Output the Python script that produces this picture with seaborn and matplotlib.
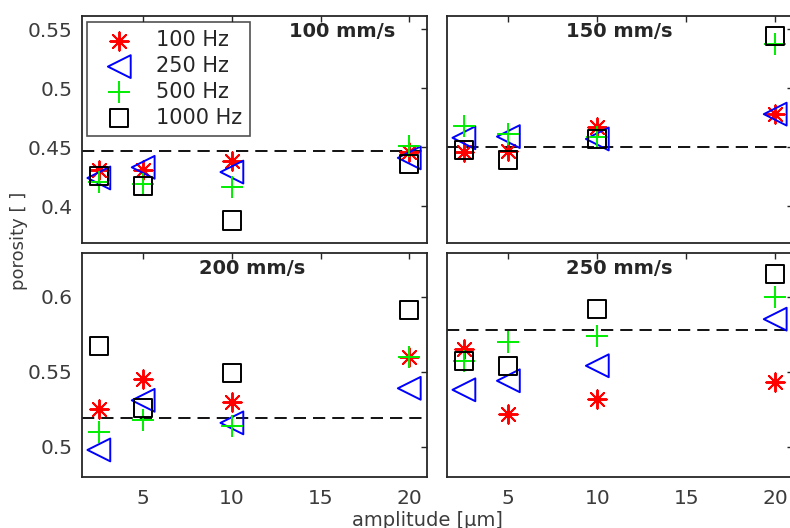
import numpy as np
import pandas as pd
import seaborn as sns
import matplotlib.pyplot as plt

amplitude = [2.5, 5, 10, 20]
speeds = [100, 150, 200, 250]
freqs = [100, 250, 500, 1000]

# porosity per scan speed, one list per frequency (100, 250, 500, 1000 Hz)
por_100 = [[0.431, 0.431, 0.438, 0.446],
           [0.424, 0.433, 0.429, 0.441],
           [0.421, 0.419, 0.416, 0.451],
           [0.426, 0.417, 0.388, 0.436]]
por_150 = [[0.446, 0.447, 0.467, 0.478],
           [0.458, 0.459, 0.457, 0.478],
           [0.468, 0.461, 0.459, 0.537],
           [0.448, 0.439, 0.457, 0.544]]
por_200 = [[0.525, 0.545, 0.530, 0.560],
           [0.498, 0.531, 0.516, 0.539],
           [0.510, 0.518, 0.514, 0.560],
           [0.567, 0.526, 0.549, 0.591]]
por_250 = [[0.565, 0.522, 0.532, 0.543],
           [0.538, 0.544, 0.554, 0.585],
           [0.557, 0.570, 0.574, 0.600],
           [0.557, 0.554, 0.592, 0.615]]
# reference porosity (dashed line) per speed
ref_por = [0.447, 0.450, 0.519, 0.578]

rows = []
for sp, block in zip(speeds, [por_100, por_150, por_200, por_250]):
    for fq, vals in zip(freqs, block):
        for a, v in zip(amplitude, vals):
            rows.append({"speed": sp, "freq": fq, "amplitude": a, "porosity": v})
df = pd.DataFrame(rows)

sns.set_style("white")
plt.rcParams["font.family"] = ["DejaVu Sans"]

markers = {100: (8, 2, 0), 250: "<", 500: "+", 1000: "s"}
colors = {100: "#ff0000", 250: "#0000ff", 500: "#00ee00", 1000: "#000000"}
sizes = {100: 175, 250: 270, 500: 230, 1000: 170}

txt_col = "#3c3c3c"
fig = plt.figure(figsize=(7.9, 5.28), dpi=100)
W, H = 790, 528
boxes = [(82, 16, 427, 243), (447, 16, 793, 243),
         (82, 253, 427, 477), (447, 253, 793, 477)]
ylims = [(0.369, 0.561), (0.369, 0.561), (0.48, 0.629), (0.48, 0.629)]
yticks = [[0.4, 0.45, 0.5, 0.55], [0.4, 0.45, 0.5, 0.55],
          [0.5, 0.55, 0.6], [0.5, 0.55, 0.6]]
title_x = [0.754, 0.497, 0.493, 0.497]

for i, sp in enumerate(speeds):
    l, t, r, b = boxes[i]
    ax = fig.add_axes([l / W, 1 - b / H, (r - l) / W, (b - t) / H])
    sub = df[df["speed"] == sp]
    ax.axhline(ref_por[i], color="#111111", lw=1.4, ls=(0, (6.3, 3.6)), zorder=1)
    for fq in freqs:
        d = sub[sub["freq"] == fq]
        m = markers[fq]
        kw = dict(facecolor="none", edgecolor=colors[fq]) if m in ("<", "s") else {}
        sns.scatterplot(data=d, x="amplitude", y="porosity", ax=ax,
                        marker=m, color=colors[fq], s=sizes[fq],
                        linewidth=1.4, label=f"{fq} Hz", legend=False,
                        zorder=3, **kw)
    ax.set_xlim(1.55, 21.0)
    ax.set_ylim(*ylims[i])
    ax.set_xticks([5, 10, 15, 20])
    ax.set_yticks(yticks[i])
    ax.set_yticklabels([f"{v:g}" for v in yticks[i]])
    ax.set_xlabel("")
    ax.set_ylabel("")
    ax.tick_params(direction="in", top=True, right=True, length=4, width=1,
                   labelsize=14.5, colors="#262626", labelcolor=txt_col, pad=7)
    ax.tick_params(axis="x", pad=9)
    if i < 2:
        ax.tick_params(labelbottom=False)
    if i % 2 == 1:
        ax.tick_params(labelleft=False)
    for s in ax.spines.values():
        s.set_color("#262626")
        s.set_linewidth(1.3)
    ax.text(title_x[i], 0.93, f"{sp} mm/s", transform=ax.transAxes,
            ha="center", va="center", fontsize=14, fontweight="bold",
            color="#262626")
    if i == 0:
        leg = ax.legend(loc="upper left", bbox_to_anchor=(0.0145, 0.974),
                        fontsize=15, frameon=True, fancybox=False,
                        labelspacing=0.28, handletextpad=0.6,
                        borderpad=0.4, handlelength=2.3, borderaxespad=0.0)
        leg.get_frame().set_edgecolor("#262626")
        leg.get_frame().set_linewidth(1.2)
        for tx in leg.get_texts():
            tx.set_color("#262626")

fig.text(19 / W, 1 - 241 / H, "porosity [ ]", rotation=90, ha="center",
         va="center", fontsize=13, color=txt_col)
fig.text(427 / W, 1 - 520 / H, "amplitude [\u03bcm]", ha="center",
         va="center", fontsize=14, color=txt_col)

fig.savefig("out.png", dpi=100)
